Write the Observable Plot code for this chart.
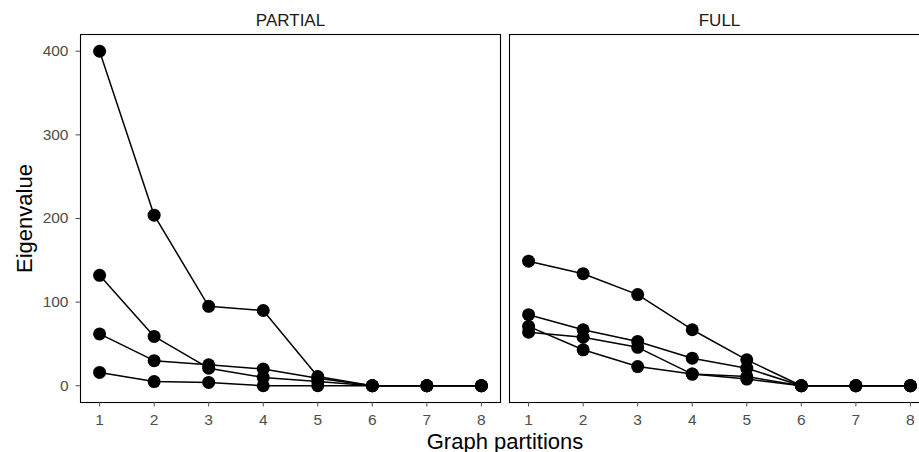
<!DOCTYPE html>
<html>
<head>
<meta charset="utf-8">
<script src="https://cdn.jsdelivr.net/npm/d3@7"></script>
<script src="https://cdn.jsdelivr.net/npm/@observablehq/plot@0.6"></script>
<style>
  html, body { margin: 0; padding: 0; background: #fff; overflow: hidden; }
  #chart { width: 919px; height: 452px; overflow: hidden; }
  #chart svg { max-width: none !important; width: 929px; height: 452px; display: block; }
</style>
</head>
<body>
<div id="chart"></div>
<script>
// Eigenvalue of each graph partition, for the PARTIAL and FULL methods
const partitions = [1, 2, 3, 4, 5, 6, 7, 8];
const methods = ["PARTIAL", "FULL"];
const yTicks = [0, 100, 200, 300, 400];

const partial1 = [400, 204, 95, 90, 11, 0, 0, 0];
const partial2 = [132, 59, 21, 10, 5, 0, 0, 0];
const partial3 = [62, 30, 25, 20, 9, 0, 0, 0];
const partial4 = [16, 5, 4, 0, 0, 0, 0, 0];

const full1 = [149, 134, 109, 67, 31, 0, 0, 0];
const full2 = [85, 67, 53, 33, 21, 0, 0, 0];
const full3 = [71, 43, 23, 14, 8, 0, 0, 0];
const full4 = [64, 58, 46, 14, 11, 0, 0, 0];

const seriesList = [
  { method: "PARTIAL", id: "p1", values: partial1 },
  { method: "PARTIAL", id: "p2", values: partial2 },
  { method: "PARTIAL", id: "p3", values: partial3 },
  { method: "PARTIAL", id: "p4", values: partial4 },
  { method: "FULL", id: "f1", values: full1 },
  { method: "FULL", id: "f2", values: full2 },
  { method: "FULL", id: "f3", values: full3 },
  { method: "FULL", id: "f4", values: full4 }
];

const rows = seriesList.flatMap(s =>
  s.values.map((v, i) => ({ method: s.method, series: s.id, partition: partitions[i], eigenvalue: v }))
);

const chart = Plot.plot({
  width: 929,
  height: 452,
  marginLeft: 79,
  marginRight: 0,
  marginTop: 34,
  marginBottom: 50,
  style: { fontFamily: "'Liberation Sans', Arial, sans-serif", background: "#fff", maxWidth: "none" },
  fx: { domain: methods, paddingInner: 0.021, paddingOuter: 0, label: null },
  x: { domain: [0.65, 8.35] },
  y: { domain: [-20, 420] },
  marks: [
    Plot.frame({ stroke: "#000", strokeWidth: 1.1 }),
    Plot.axisFx({ anchor: "top", tickSize: 0, tickPadding: 9, fontSize: 17, color: "#1a1a1a", label: null }),
    Plot.axisX({ ticks: partitions, tickSize: 4.5, tickPadding: 6.5, fontSize: 15.5, color: "#4d4d4d", label: null }),
    Plot.axisY({ ticks: yTicks, tickSize: 4.5, tickPadding: 7.5, fontSize: 15.5, color: "#4d4d4d", label: null }),
    Plot.line(rows, { fx: "method", x: "partition", y: "eigenvalue", z: "series", stroke: "#000", strokeWidth: 1.5 }),
    Plot.dot(rows, { fx: "method", x: "partition", y: "eigenvalue", r: 6.5, fill: "#000" }),
    Plot.text(["Graph partitions"], { facet: "super", text: d => d, frameAnchor: "bottom", lineAnchor: "bottom", dy: 46, fontSize: 22, fill: "#000" }),
    Plot.text(["Eigenvalue"], { facet: "super", text: d => d, frameAnchor: "left", textAnchor: "middle", rotate: -90, dx: -56, fontSize: 22, fill: "#000" })
  ]
});

document.getElementById("chart").appendChild(chart);
</script>
</body>
</html>
